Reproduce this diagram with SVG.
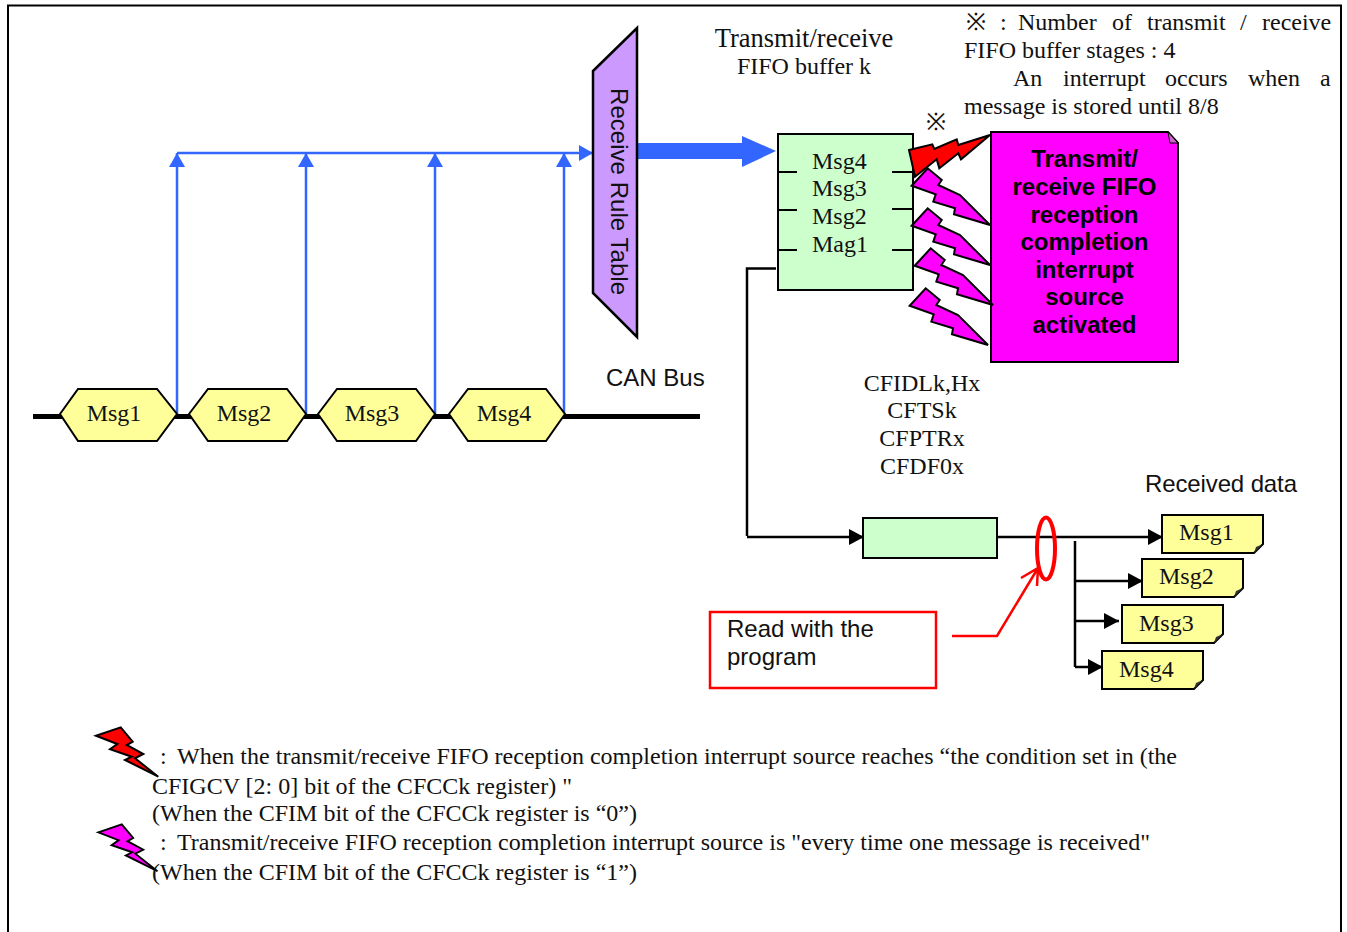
<svg xmlns="http://www.w3.org/2000/svg" width="1347" height="932" viewBox="0 0 1347 932">
<style>
.s{font-family:"Liberation Serif","Times New Roman",serif;font-size:24px;fill:#111}
.a{font-family:"Liberation Sans",Arial,sans-serif;font-size:24px;fill:#111}
.b{font-family:"Liberation Sans",Arial,sans-serif;font-size:24px;font-weight:bold;fill:#000;text-anchor:middle}
.m{text-anchor:middle}
.k{stroke:#000;stroke-width:2.5;fill:none}
.bl{stroke:#3366FF;stroke-width:2.5;fill:none}
.hex{fill:#FFFF99;stroke:#000;stroke-width:2}
.doc{fill:#FFFF99;stroke:#000;stroke-width:2}
.pb{fill:#FF00FF;stroke:#000;stroke-width:2}
.rb{fill:#FF0000;stroke:#000;stroke-width:2}
</style>
<defs>
<marker id="ab" markerUnits="userSpaceOnUse" markerWidth="16" markerHeight="16" refX="14" refY="8" orient="auto"><path d="M0 0L14 8L0 16Z" fill="#3366FF"/></marker>
<marker id="ak" markerUnits="userSpaceOnUse" markerWidth="16" markerHeight="16" refX="15" refY="8" orient="auto"><path d="M0 0L15 8L0 16Z" fill="#000"/></marker>
<polygon id="bolt" points="911.700,185.700 927.700,168.300 941.700,180 938.300,185 960,195 990,225 954,214.300 955,208.300 933.300,201.700 935.700,194.300"/>
<polygon id="mini" points="0,0 24.700,-8.400 36.700,6 30.700,9.300 47.300,18.300 39,22.600 62.300,41 29,24.300 35.700,21 14,13.600 21.300,8.300"/>
</defs>
<path id="frame" d="M8 932V5.500H1341V932" fill="none" stroke="#000" stroke-width="2"/>

<g id="connectors">
<line x1="33" y1="416.500" x2="700" y2="416.500" stroke="#000" stroke-width="5"/>
<path class="bl" d="M177 414V153" marker-end="url(#ab)"/>
<path class="bl" d="M306 414V153" marker-end="url(#ab)"/>
<path class="bl" d="M435 414V153" marker-end="url(#ab)"/>
<path class="bl" d="M564 414V153" marker-end="url(#ab)"/>
<path class="bl" d="M177 153H593" marker-end="url(#ab)"/>
<polygon id="thick-arrow" points="637,143 742,143 742,136 776,151 742,167 742,159 637,159" fill="#3366FF"/>
<path class="k" d="M776 268.500H747V536"/>
<path class="k" d="M747 537H864" marker-end="url(#ak)"/>
<path class="k" d="M997 537H1163" marker-end="url(#ak)"/>
<path class="k" d="M1075 541V667"/>
<path class="k" d="M1075 581H1143" marker-end="url(#ak)"/>
<path class="k" d="M1075 621H1119" marker-end="url(#ak)"/>
<path class="k" d="M1075 667H1103" marker-end="url(#ak)"/>
<path d="M952 636H997L1038 568M1021 578L1038 568L1037 586" fill="none" stroke="#f00" stroke-width="2.500"/>
</g>

<g id="msg1-hex"><polygon class="hex" points="60,414 78,389 157,389 177,414 157,441 78,441"/><text class="s m" x="114" y="421">Msg1</text></g>
<g id="msg2-hex"><polygon class="hex" points="189,414 208,389 287,389 306,414 287,441 208,441"/><text class="s m" x="244" y="421">Msg2</text></g>
<g id="msg3-hex"><polygon class="hex" points="318,414 337,389 416,389 435,414 416,441 337,441"/><text class="s m" x="372" y="421">Msg3</text></g>
<g id="msg4-hex"><polygon class="hex" points="449,414 468,389 546,389 565,414 546,441 468,441"/><text class="s m" x="504" y="421">Msg4</text></g>
<g id="can-bus-label"><text class="a" x="606" y="386">CAN Bus</text></g>

<g id="rule-table"><polygon points="593,71 637,28 637,337 593,293" fill="#CC99FF" stroke="#000" stroke-width="2.500"/><text class="a m" transform="translate(611,191.500) rotate(90)" x="0" y="0" textLength="207">Receive Rule Table</text></g>

<g id="fifo-label"><text class="s m" x="804" y="47" style="font-size:26.500px">Transmit/receive</text><text class="s m" x="804" y="74">FIFO buffer k</text></g>

<g id="fifo-buffer">
<rect x="778" y="134" width="135" height="156" fill="#CCFFCC" stroke="#000" stroke-width="2"/>
<path class="k" style="stroke-width:2" d="M778 172H797M778 210H797M778 250H797M892 172H913M892 209H913M892 250H913"/>
<text class="s" x="812" y="169">Msg4</text>
<text class="s" x="812" y="196">Msg3</text>
<text class="s" x="812" y="224">Msg2</text>
<text class="s" x="812" y="252">Mag1</text>
</g>

<g id="note-text">
<text class="s" y="30"><tspan x="966">※</tspan><tspan x="1000">:</tspan><tspan x="1018">Number</tspan><tspan x="1112">of</tspan><tspan x="1147">transmit</tspan><tspan x="1240">/</tspan><tspan x="1262">receive</tspan></text>
<text class="s" x="964" y="58">FIFO buffer stages : 4</text>
<text class="s" y="86"><tspan x="1013">An</tspan><tspan x="1063">interrupt</tspan><tspan x="1165">occurs</tspan><tspan x="1248">when</tspan><tspan x="1320">a</tspan></text>
<text class="s" x="964" y="114">message is stored until 8/8</text>
<text class="s" x="926" y="130">※</text>
</g>

<g id="interrupt-source">
<path d="M991 132H1168L1178 143V362H991Z" fill="#FF00FF" stroke="#000" stroke-width="2"/>
<path d="M1168 132L1170 143H1178Z" fill="#CC66CC" stroke="#000" stroke-width="1"/>
<text class="b" x="1084.500" y="167">Transmit/</text>
<text class="b" x="1084.500" y="195">receive FIFO</text>
<text class="b" x="1084.500" y="223">reception</text>
<text class="b" x="1084.500" y="250">completion</text>
<text class="b" x="1084.500" y="278">interrupt</text>
<text class="b" x="1084.500" y="305">source</text>
<text class="b" x="1084.500" y="333">activated</text>
</g>

<g id="bolts">
<use href="#bolt" class="pb"/>
<use href="#bolt" class="pb" y="40"/>
<use href="#bolt" class="pb" x="3" y="80"/>
<use href="#bolt" class="pb" x="-2" y="120"/>
<polygon class="rb" points="909,150 932.300,144.300 934.300,149 956.700,139.300 958.300,145 990,135 961,159.300 958.300,153.300 939.300,168.300 936.700,159.300 915,176.700"/>
</g>

<g id="read-box"><rect x="710" y="612" width="226" height="76" fill="#fff" stroke="#f00" stroke-width="2.500"/><text class="a" x="727" y="637">Read with the</text><text class="a" x="727" y="665">program</text></g>
<ellipse id="read-marker" cx="1046" cy="548.500" rx="9" ry="31" fill="none" stroke="#f00" stroke-width="4"/>

<g id="received-label"><text class="a" x="1145" y="492" textLength="152">Received data</text></g>
<g id="cf-regs"><text class="s m" x="922" y="391">CFIDLk,Hx</text><text class="s m" x="922" y="418">CFTSk</text><text class="s m" x="922" y="446">CFPTRx</text><text class="s m" x="922" y="474">CFDF0x</text></g>

<g id="fifo-out"><rect x="863" y="518" width="134" height="40" fill="#CCFFCC" stroke="#000" stroke-width="2"/></g>

<g id="doc1"><path class="doc" d="M1162 515H1263V544L1254 553H1162Z"/><path d="M1254 553L1256 547L1263 544Z" fill="#333"/><text class="s" x="1179" y="540">Msg1</text></g>
<g id="doc2"><path class="doc" d="M1142 559H1243V588L1234 597H1142Z"/><path d="M1234 597L1236 591L1243 588Z" fill="#333"/><text class="s" x="1159" y="584">Msg2</text></g>
<g id="doc3"><path class="doc" d="M1122 605H1223V634L1214 643H1122Z"/><path d="M1214 643L1216 637L1223 634Z" fill="#333"/><text class="s" x="1139" y="631">Msg3</text></g>
<g id="doc4"><path class="doc" d="M1102 651H1203V680L1194 689H1102Z"/><path d="M1194 689L1196 683L1203 680Z" fill="#333"/><text class="s" x="1119" y="677">Msg4</text></g>

<g id="legend">
<use href="#mini" class="rb" x="96" y="735.700"/>
<use href="#mini" class="pb" transform="translate(98.300,832.300) scale(.95)"/>
<text class="s" y="764"><tspan x="160">:</tspan><tspan x="177" textLength="1000">When the transmit/receive FIFO reception completion interrupt source reaches “the condition set in (the</tspan></text>
<text class="s" x="152" y="794" textLength="420">CFIGCV [2: 0] bit of the CFCCk register) "</text>
<text class="s" x="152" y="821" textLength="485">(When the CFIM bit of the CFCCk register is “0”)</text>
<text class="s" y="850"><tspan x="160">:</tspan><tspan x="177" textLength="973">Transmit/receive FIFO reception completion interrupt source is "every time one message is received"</tspan></text>
<text class="s" x="152" y="880" textLength="485">(When the CFIM bit of the CFCCk register is “1”)</text>
</g>
</svg>
